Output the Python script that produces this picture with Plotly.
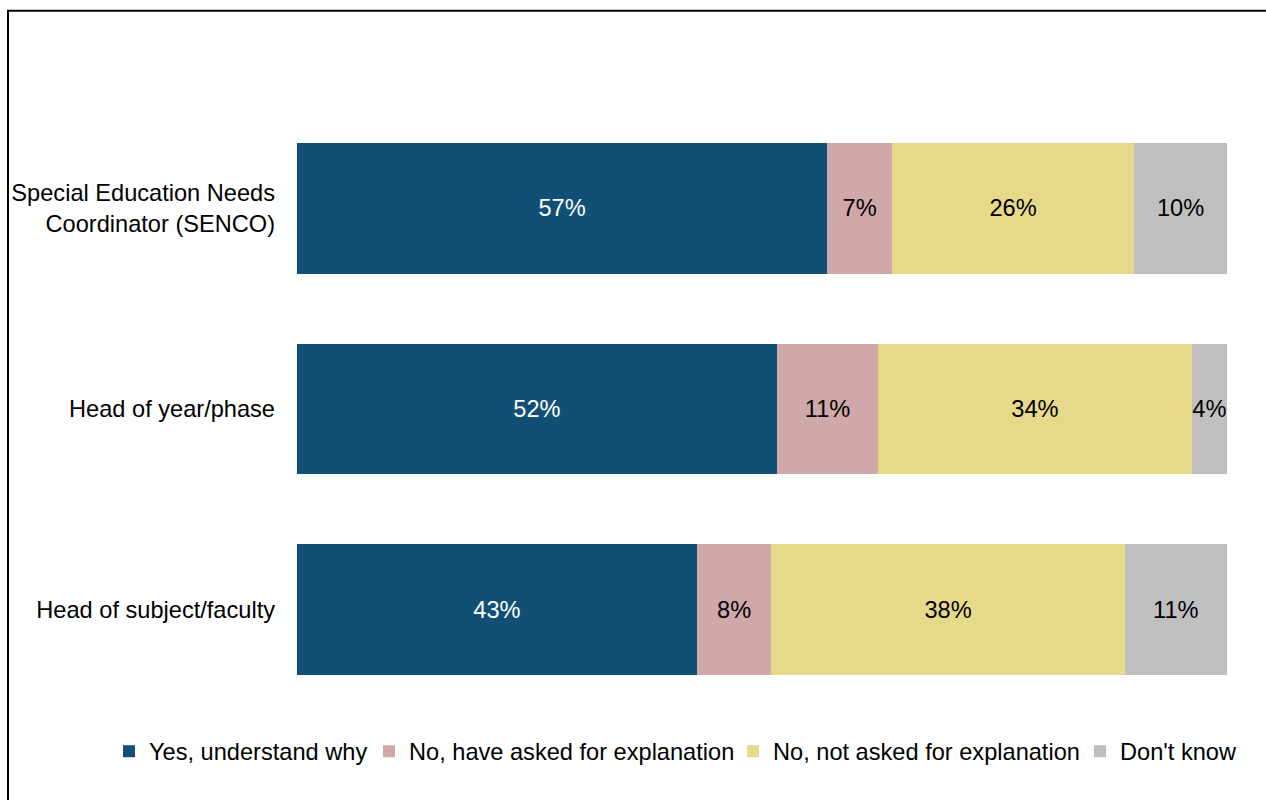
import plotly.graph_objects as go

categories = ["Special Education Needs<br>Coordinator (SENCO)", "Head of year/phase", "Head of subject/faculty"]
series_names = ["Yes, understand why", "No, have asked for explanation", "No, not asked for explanation", "Don't know"]
yes_understand = [57.0, 51.6, 43.0]
asked_explanation = [7.0, 10.9, 8.0]
not_asked = [26.0, 33.7, 38.0]
dont_know = [10.0, 3.8, 11.0]
colors = ["#124F74", "#D0A8A9", "#E6D98A", "#BFBFBF"]
text_colors = ["white", "black", "black", "black"]

FS = 23.6
FONT = "Liberation Sans, Arial, sans-serif"

W, H = 1266, 800
L, R, T, B = 297, 39, 107.5, 89.5
pw, ph = W - L - R, H - T - B

legend_ids = ["legend", "legend2", "legend3", "legend4"]
legend_left_px = [109, 369, 733, 1080]

fig = go.Figure()
for name, vals, col, tcol, lid in zip(series_names, [yes_understand, asked_explanation, not_asked, dont_know],
                                       colors, text_colors, legend_ids):
    fig.add_trace(go.Bar(
        y=categories, x=vals, name=name, orientation="h",
        marker=dict(color=col, line=dict(width=0)),
        text=[f"{round(v)}%" for v in vals],
        textposition="inside", insidetextanchor="middle", textangle=0,
        textfont=dict(color=tcol, size=FS, family=FONT),
        cliponaxis=False, legend=lid,
    ))

legend_y = (710.5 - 752) / ph
legend_layouts = {}
for lid, px in zip(legend_ids, legend_left_px):
    legend_layouts[lid] = dict(orientation="h", x=(px - L) / pw, xanchor="left", y=legend_y, yanchor="middle",
                               font=dict(size=FS, family=FONT), itemwidth=30, bgcolor="rgba(0,0,0,0)")

fig.update_layout(
    width=W, height=H,
    barmode="stack", bargap=0.35,
    margin=dict(l=L, r=R, t=T, b=B),
    paper_bgcolor="white", plot_bgcolor="white",
    font=dict(family=FONT, size=FS, color="black"),
    uniformtext=dict(minsize=FS, mode="show"),
    xaxis=dict(range=[0, 100], visible=False, fixedrange=True),
    yaxis=dict(categoryorder="array", categoryarray=categories, autorange="reversed",
               showline=False, showgrid=False, ticks="", ticklabelstandoff=21,
               tickfont=dict(size=FS)),
    showlegend=True,
    shapes=[dict(type="rect", xref="paper", yref="paper",
                 x0=(8 - L) / pw, x1=(W + 20 - L) / pw,
                 y0=-(B + 20) / ph, y1=1 + (T - 10) / ph,
                 line=dict(color="black", width=2), fillcolor="rgba(0,0,0,0)", layer="below")],
    **legend_layouts,
)

fig.write_html("out.html", config={"displayModeBar": False},
               post_script="document.body.style.margin='0';document.body.style.overflow='hidden';")
